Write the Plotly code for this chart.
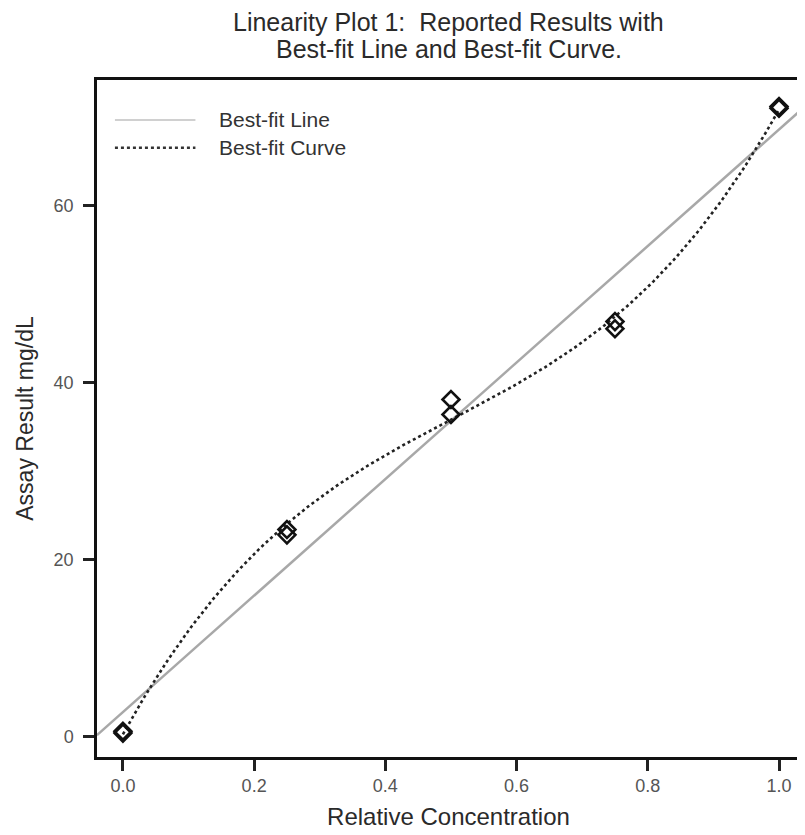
import numpy as np
import plotly.graph_objects as go

# Data
conc = [0.0, 0.0, 0.25, 0.25, 0.5, 0.5, 0.75, 0.75, 1.0, 1.0]
result = [0.4, 0.6, 22.8, 23.4, 38.1, 36.4, 46.1, 46.9, 71.0, 71.2]

x_ticks = [0.0, 0.2, 0.4, 0.6, 0.8, 1.0]
x_tick_labels = ["0.0", "0.2", "0.4", "0.6", "0.8", "1.0"]
y_ticks = [0, 20, 40, 60]

x_range = [-0.0395, 1.032]
y_range = [-2.3, 74.2]

title_lines = ["Linearity Plot 1:  Reported Results with", "Best-fit Line and Best-fit Curve."]
legend_names = ["Best-fit Line", "Best-fit Curve"]

# Fits from data
lin = np.polyfit(conc, result, 1)
cub = np.polyfit(conc, result, 3)
xl = np.linspace(x_range[0], x_range[1], 50)
xc = np.linspace(0.0, 1.0, 200)

font = "Liberation Sans, Arial, sans-serif"

fig = go.Figure()
fig.add_trace(go.Scatter(x=xl, y=np.polyval(lin, xl), mode="lines",
                         line=dict(color="#a8a8a8", width=2.5), showlegend=False, hoverinfo="skip"))
fig.add_trace(go.Scatter(x=xc, y=np.polyval(cub, xc), mode="lines",
                         line=dict(color="#222222", width=2.6, dash="dot"), showlegend=False, hoverinfo="skip"))
fig.add_trace(go.Scatter(x=conc, y=result, mode="markers",
                         marker=dict(symbol="diamond-open", size=13, color="#111111",
                                     line=dict(width=2.6, color="#111111")),
                         showlegend=False))

axis_common = dict(showline=True, linecolor="#111111", linewidth=2.5, mirror=True,
                   ticks="outside", ticklen=11, tickwidth=2.5, tickcolor="#222222",
                   showgrid=False, zeroline=False,
                   tickfont=dict(family=font, size=18, color="#555555"))

# page has an 8px body margin: figure is shifted by 8px right and down
fig.update_layout(
    width=797, height=827,
    margin=dict(l=89, r=2, t=72, b=78),
    paper_bgcolor="white", plot_bgcolor="white",
    xaxis=dict(range=x_range, tickvals=x_ticks, ticktext=x_tick_labels,
               title=dict(text="Relative Concentration", standoff=13,
                          font=dict(family=font, size=24, color="#2a2a2a")), **axis_common),
    yaxis=dict(range=y_range, tickvals=y_ticks, ticklabelstandoff=6,
               title=dict(text="Assay Result mg/dL", standoff=14,
                          font=dict(family=font, size=23, color="#2a2a2a")), **axis_common),
)

# Title as two lines
for txt, yy in zip(title_lines, [1.0856, 1.0458]):
    fig.add_annotation(text=txt, xref="paper", yref="paper", x=0.5, y=yy,
                       xanchor="center", yanchor="middle", showarrow=False,
                       font=dict(family=font, size=25, color="#2a2a2a"))

# Manual legend (top-left inside the plot area)
fig.add_shape(type="line", xref="paper", yref="paper", x0=0.0255, x1=0.140, y0=0.941, y1=0.941,
              line=dict(color="#d0d0d0", width=2))
fig.add_shape(type="line", xref="paper", yref="paper", x0=0.0255, x1=0.140, y0=0.900, y1=0.900,
              line=dict(color="#333333", width=2.6, dash="dot"))
for txt, yy in zip(legend_names, [0.941, 0.900]):
    fig.add_annotation(text=txt, xref="paper", yref="paper", x=0.171, y=yy,
                       xanchor="left", yanchor="middle", showarrow=False,
                       font=dict(family=font, size=21, color="#333333"))

fig.write_html("out.html")
